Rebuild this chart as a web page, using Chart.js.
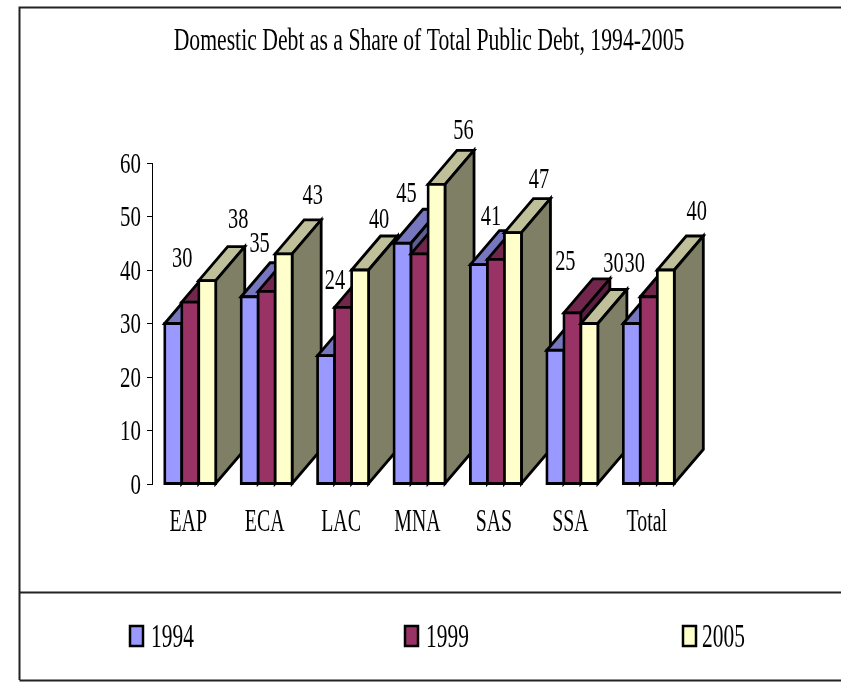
<!DOCTYPE html>
<html>
<head>
<meta charset="utf-8">
<style>html,body{margin:0;padding:0;background:#fff}canvas{display:block}</style>
<script src="https://cdn.jsdelivr.net/npm/chart.js@4"></script>
</head>
<body>
<canvas id="c" width="841" height="682"></canvas>
<script>
const categories = ["EAP","ECA","LAC","MNA","SAS","SSA","Total"];
const years = ["1994","1999","2005"];
const values1994 = [30,35,24,45,41,25,30];
const values1999 = [34,36,33,43,42,32,35];
const values2005 = [38,43,40,56,47,30,40];
const yTicks = [0,10,20,30,40,50,60];
const titleText = "Domestic Debt as a Share of Total Public Debt, 1994-2005";

// styles
const FONT = '"Liberation Serif"';
const front = ["#9999FF","#993366","#FFFFCC"];
const topFace = ["#7777C0","#72264C","#BFBF99"];
const sideFace = ["#5E5E92","#5A1F3E","#7F7F66"];
const DEPTH_X = 29, DEPTH_Y = 34;
// hand placement of the value labels relative to each bar's front-top centre
const labelOffsets = {
  0:[[9,-66],[10,-55],[9,-77],[4,-51],[12,-50],[10,-90],[3,-61]],
  2:[[31,-63],[29,-60],[19,-52],[27,-55],[26,-54],[24,-61],[31,-60]]
};

function squeezed(ctx, text, x, y, size, sx, align){
  ctx.save();
  ctx.font = size + 'px ' + FONT;
  ctx.fillStyle = '#000';
  ctx.textBaseline = 'alphabetic';
  ctx.textAlign = 'left';
  const w = ctx.measureText(text).width * sx;
  const left = align === 'right' ? x - w : align === 'left' ? x : x - w / 2;
  ctx.translate(left, y + size * 0.33);
  ctx.scale(sx, 1);
  ctx.fillText(text, 0, 0);
  ctx.restore();
}
function poly(ctx, pts, fill){
  ctx.beginPath();
  pts.forEach((p,i)=> i ? ctx.lineTo(p[0],p[1]) : ctx.moveTo(p[0],p[1]));
  ctx.closePath();
  ctx.fillStyle = fill;
  ctx.fill();
  ctx.lineWidth = 2.8;
  ctx.lineJoin = 'miter';
  ctx.strokeStyle = '#000';
  ctx.stroke();
}

const bars3d = {
  id:'bars3d',
  beforeDatasetsDraw(chart){
    const ctx = chart.ctx;
    const n = chart.data.labels.length;
    for(let i=0;i<n;i++){
      chart.data.datasets.forEach((ds,d)=>{
        const b = chart.getDatasetMeta(d).data[i];
        const l = b.x - b.width/2, r = b.x + b.width/2, t = b.y, bot = b.base;
        poly(ctx,[[l,t],[l+DEPTH_X,t-DEPTH_Y],[r+DEPTH_X,t-DEPTH_Y],[r,t]],topFace[d]);
        poly(ctx,[[r,t],[r+DEPTH_X,t-DEPTH_Y],[r+DEPTH_X,bot-DEPTH_Y],[r,bot]],sideFace[d]);
        b.draw(ctx);
      });
    }
    return false;
  },
  afterDraw(chart){
    const ctx = chart.ctx;
    // frame
    ctx.save();
    ctx.strokeStyle = '#222';
    ctx.lineWidth = 2;
    ctx.beginPath();
    ctx.moveTo(841,7.5); ctx.lineTo(19.5,7.5); ctx.lineTo(19.5,680);
    ctx.moveTo(19.5,592.5); ctx.lineTo(841,592.5);
    ctx.moveTo(19.5,680.5); ctx.lineTo(841,680.5);
    ctx.stroke();
    ctx.restore();
    // title
    squeezed(ctx,titleText,429,40,31,0.70);
    // y ticks
    const ys = chart.scales.y;
    ys.ticks.forEach((t,i)=> squeezed(ctx,String(t.value),141,ys.getPixelForTick(i),29,0.72,'right'));
    // x labels
    const xs = chart.scales.x;
    chart.data.labels.forEach((s,i)=> squeezed(ctx,s,xs.getPixelForTick(i)-2,520,32,0.62));
    // value labels
    Object.keys(labelOffsets).forEach(d=>{
      const meta = chart.getDatasetMeta(+d);
      chart.data.datasets[d].data.forEach((v,i)=>{
        const b = meta.data[i], o = labelOffsets[d][i];
        squeezed(ctx,String(v),b.x+o[0],b.y+o[1],30,0.68);
      });
    });
    // legend
    const swX = [130,405,683], txX = [151,426,702];
    chart.data.datasets.forEach((ds,d)=>{
      ctx.fillStyle = front[d];
      ctx.strokeStyle = '#000';
      ctx.lineWidth = 2.5;
      ctx.fillRect(swX[d],626,13,20);
      ctx.strokeRect(swX[d],626,13,20);
      squeezed(ctx,ds.label,txX[d],636,34,0.63,'left');
    });
  }
};

new Chart(document.getElementById('c'),{
  type:'bar',
  data:{
    labels:categories,
    datasets:[values1994,values1999,values2005].map((data,d)=>({
      label:years[d], data,
      backgroundColor:front[d], borderColor:'#000', borderWidth:2.8,
      borderSkipped:false, inflateAmount:1.4,
      barPercentage:1, categoryPercentage:0.668
    }))
  },
  options:{
    responsive:false, animation:false,
    layout:{padding:{left:147,right:154,top:163,bottom:198}},
    plugins:{legend:{display:false},title:{display:false},tooltip:{enabled:false}},
    scales:{
      x:{ticks:{display:false},grid:{display:false},border:{display:false},
         afterFit(s){s.height=0;}},
      y:{min:0,max:60,
         afterBuildTicks(s){s.ticks=yTicks.map(value=>({value}));},
         ticks:{display:false},
         grid:{display:true,drawOnChartArea:false,drawTicks:true,tickLength:5,color:'#000',lineWidth:1},
         border:{display:true,color:'#000',width:1},
         afterFit(s){s.width=5;}}
    }
  },
  plugins:[bars3d]
});
</script>
</body>
</html>
